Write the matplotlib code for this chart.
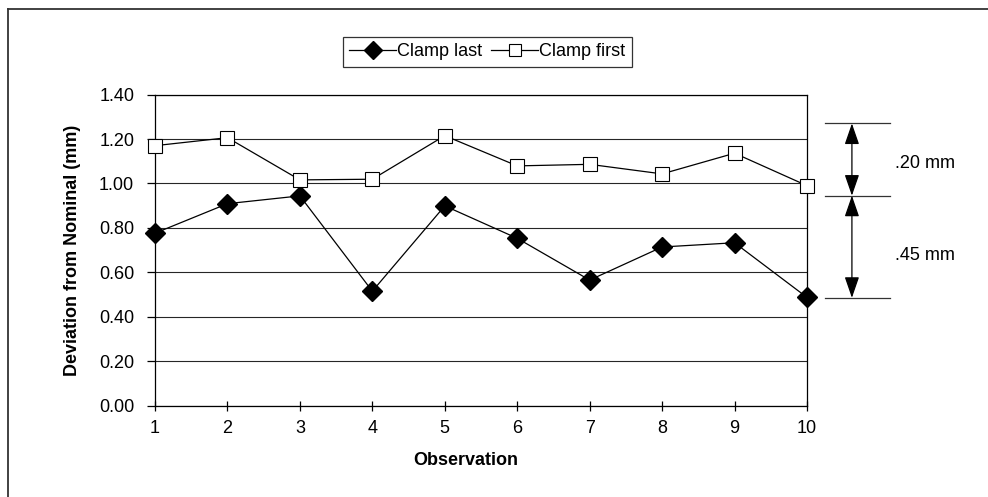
import matplotlib.pyplot as plt
from matplotlib.lines import Line2D

observations = [1, 2, 3, 4, 5, 6, 7, 8, 9, 10]
clamp_last = [0.776, 0.909, 0.944, 0.515, 0.899, 0.753, 0.565, 0.714, 0.733, 0.487]
clamp_first = [1.170, 1.206, 1.016, 1.019, 1.215, 1.079, 1.086, 1.043, 1.136, 0.990]
y_ticks = [0.0, 0.2, 0.4, 0.6, 0.8, 1.0, 1.2, 1.4]

# dimension marks on the right
dim_levels = [1.27, 0.945, 0.485]
dim_labels = ['.20 mm', '.45 mm']
dim_label_y = [1.09, 0.675]

plt.rcParams['font.family'] = ['Liberation Sans', 'DejaVu Sans']
plt.rcParams['font.size'] = 13

fig = plt.figure(figsize=(9.88, 4.97), dpi=100)
ax = fig.add_axes([0.1569, 0.1839, 0.6599, 0.6258])

ax.plot(observations, clamp_last, color='black', lw=0.9, marker='D', ms=10,
        mfc='black', mec='black', label='Clamp last', clip_on=False, zorder=3)
ax.plot(observations, clamp_first, color='black', lw=0.9, marker='s', ms=10,
        mfc='white', mec='black', mew=0.8, label='Clamp first', clip_on=False, zorder=3)

ax.set_xlim(1, 10)
ax.set_ylim(0, 1.4)
ax.set_xticks(observations)
ax.set_yticks(y_ticks)
ax.set_yticklabels(['%.2f' % v for v in y_ticks])
ax.grid(axis='y', color='0.15', lw=0.8)
ax.set_axisbelow(True)
for s in ax.spines.values():
    s.set_linewidth(0.9)
ax.tick_params(axis='y', direction='out', length=6, width=0.9, pad=9)
ax.tick_params(axis='x', direction='inout', length=7, width=0.9, pad=7)

ax.set_xlabel('Observation', fontweight='bold', va='center')
ax.xaxis.set_label_coords(0.477, -0.175)
ax.set_ylabel('Deviation from Nominal (mm)', fontweight='bold', va='center')
ax.yaxis.set_label_coords(-0.127, 0.5)

leg = fig.legend(loc='center', bbox_to_anchor=(0.4934, 0.8954), ncol=2,
                 handlelength=2.6, handletextpad=0.05, columnspacing=0.5,
                 fancybox=False, edgecolor='black', borderpad=0.35)
leg.get_frame().set_linewidth(0.9)
for h in leg.legend_handles:
    h.set_markersize(9)

# dimension lines, arrows and labels
x_lo, x_hi, x_arrow, x_text = 10.25, 11.15, 10.62, 11.21
for lev in dim_levels:
    ax.plot([x_lo, x_hi], [lev, lev], color='0.2', lw=0.9, clip_on=False)
for i, lab in enumerate(dim_labels):
    top, bot = dim_levels[i], dim_levels[i + 1]
    ax.annotate('', xy=(x_arrow, bot), xytext=(x_arrow, top),
                arrowprops=dict(arrowstyle='<|-|>,head_length=1.3,head_width=0.45',
                                mutation_scale=10, color='black', lw=0.9,
                                shrinkA=0, shrinkB=0), annotation_clip=False)
    ax.text(x_text, dim_label_y[i], lab, ha='left', va='center', clip_on=False)

# outer frame (top and left edges)
fig.add_artist(Line2D([7.5 / 988, 7.5 / 988], [0, 1 - 9 / 497], color='0.2', lw=1.3))
fig.add_artist(Line2D([7.5 / 988, 1], [1 - 9 / 497, 1 - 9 / 497], color='0.2', lw=1.3))

fig.savefig('out.png', dpi=100)
